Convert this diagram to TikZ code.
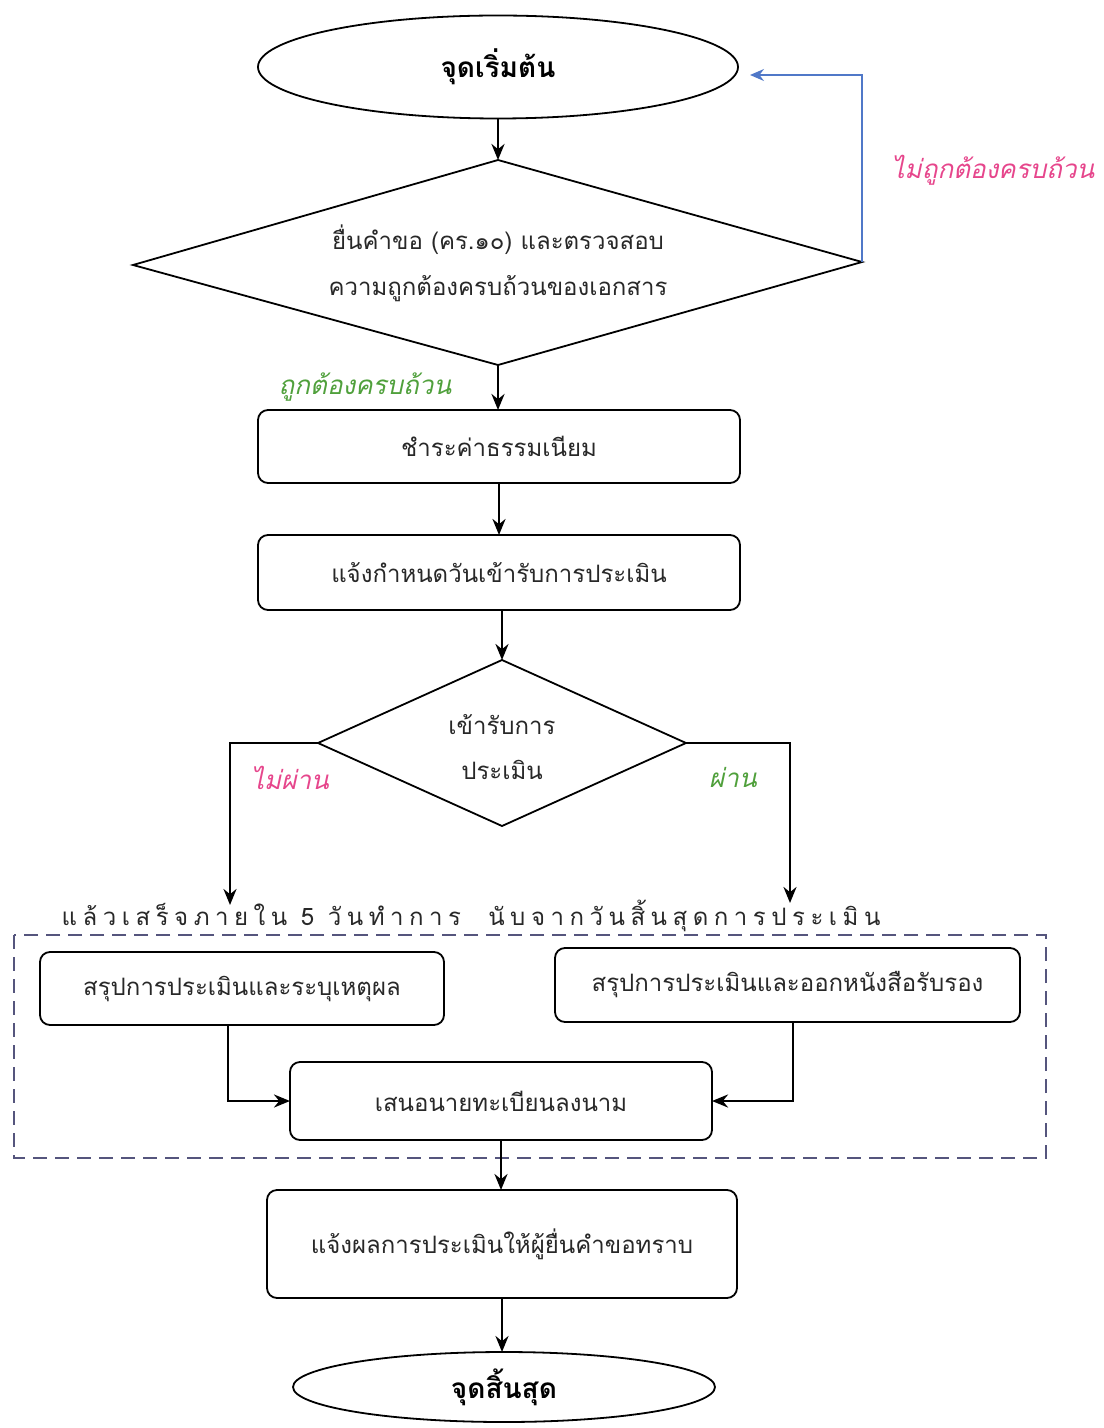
\documentclass[tikz,border=0pt]{standalone}
\usepackage{fontspec}
\newfontfamily\thai[Script=Thai]{Loma}
\newfontfamily\thaisp[Script=Thai,LetterSpace=23]{Loma}
\usetikzlibrary{shapes.geometric,arrows.meta}
\definecolor{linkblue}{RGB}{80,120,200}
\definecolor{pinklbl}{RGB}{230,70,140}
\definecolor{greenlbl}{RGB}{80,160,60}
\definecolor{dashcol}{RGB}{85,85,125}
\definecolor{ink}{RGB}{40,40,40}
\begin{document}
\begin{tikzpicture}[x=0.5pt,y=-0.5pt,
  line width=0.9pt,
  every node/.style={inner sep=0pt,outer sep=0pt},
  term/.style={draw,ellipse,line width=0.9pt,font=\thai\bfseries\fontsize{14}{16}\selectfont},
  proc/.style={draw,rounded corners=5pt,line width=0.9pt,text=ink,font=\thai\fontsize{12}{14}\selectfont},
  txt/.style={text=ink,font=\thai\fontsize{12}{23}\selectfont,align=center},
  arr/.style={-{Stealth[length=8pt,width=6.5pt]},line width=1.3pt},
  lbl/.style={font=\thai\itshape\fontsize{13}{15}\selectfont}]
\useasboundingbox (0,0) rectangle (1103,1428);
% start
\node[term,minimum width=240pt,minimum height=51.5pt] (start) at (498,67) {จุดเริ่มต้น};
% diamond 1
\coordinate (d1t) at (498,160);
\coordinate (d1r) at (862,262);
\coordinate (d1b) at (498,365);
\coordinate (d1l) at (133,265);
\draw (d1t)--(d1r)--(d1b)--(d1l)--cycle;
\node[txt] (d1) at (498,263) {ยื่นคำขอ (คร.๑๐) และตรวจสอบ\\ความถูกต้องครบถ้วนของเอกสาร};
% boxes
\node[proc,minimum width=241pt,minimum height=36.5pt] (b1) at (499,446.5) {ชำระค่าธรรมเนียม};
\node[proc,minimum width=241pt,minimum height=37.5pt] (b2) at (499,572.5) {แจ้งกำหนดวันเข้ารับการประเมิน};
% diamond 2
\coordinate (d2t) at (502,660);
\coordinate (d2r) at (686,743);
\coordinate (d2b) at (502,826);
\coordinate (d2l) at (318,743);
\draw (d2t)--(d2r)--(d2b)--(d2l)--cycle;
\node[txt,font=\thai\fontsize{12}{22.5}\selectfont] (d2) at (502,747) {เข้ารับการ\\ประเมิน};
% lower boxes
\node[proc,minimum width=202pt,minimum height=36.5pt] (bl) at (242,988.5) {สรุปการประเมินและระบุเหตุผล};
\node[proc,minimum width=232.5pt,minimum height=37pt] (br) at (787.5,985) {สรุปการประเมินและออกหนังสือรับรอง};
\node[proc,minimum width=211pt,minimum height=39pt] (bm) at (501,1101) {เสนอนายทะเบียนลงนาม};
\node[proc,minimum width=235pt,minimum height=54pt] (b4) at (502,1244) {แจ้งผลการประเมินให้ผู้ยื่นคำขอทราบ};
\node[term,minimum width=211pt,minimum height=35pt] (end) at (504,1387) {จุดสิ้นสุด};
% dashed group
\draw[dashcol,dash pattern=on 7pt off 4pt,line width=0.8pt] (14,935) rectangle (1046,1158);
\node[text=ink,font=\thaisp\fontsize{12}{14}\selectfont] (note) at (471,916) {แล้วเสร็จภายใน 5 วันทำการ \ นับจากวันสิ้นสุดการประเมิน};
% connectors
\draw[arr] (start.south) -- (d1t);
\coordinate (lp) at (862,75);
\coordinate (lpend) at (750,75);
\draw[-{Stealth[length=7pt,width=6pt]},linkblue,line width=0.8pt] (d1r) -- (lp) -- (lpend);
\draw[arr] (d1b) -- (d1b |- b1.north);
\draw[arr] (b1.south) -- (b2.north);
\draw[arr] (d2t |- b2.south) -- (d2t);
\coordinate (nl) at (230,905);
\coordinate (nr) at (790,903);
\draw[arr] (d2l) -| (nl);
\draw[arr] (d2r) -| (nr);
\draw[arr] ([xshift=-7pt]bl.south) |- (bm.west);
\draw[arr] ([xshift=2.75pt]br.south) |- (bm.east);
\draw[arr] (bm.south) -- (bm.south |- b4.north);
\draw[arr] (b4.south) -- (b4.south |- end.north);
% labels
\node[lbl,pinklbl] (l1) at (993,170) {ไม่ถูกต้องครบถ้วน};
\node[lbl,greenlbl] (l2) at (365,387) {ถูกต้องครบถ้วน};
\node[lbl,pinklbl] (l3) at (290,778) {ไม่ผ่าน};
\node[lbl,greenlbl] (l4) at (733,777) {ผ่าน};
\end{tikzpicture}
\end{document}
